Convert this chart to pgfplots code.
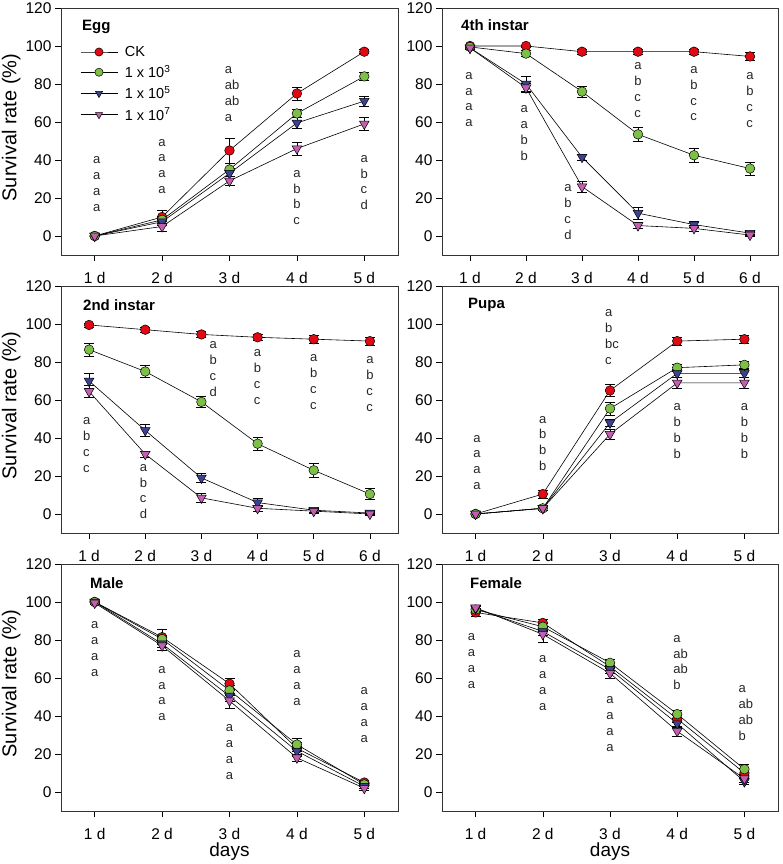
\documentclass[border=0pt]{standalone}
\usepackage{fontspec}
\setmainfont{Liberation Sans}
\usepackage{pgfplots}
\usepackage{pgfplotstable}
\pgfplotsset{compat=1.18}

\definecolor{ckred}{RGB}{225,10,20}
\definecolor{grn}{RGB}{125,192,70}
\definecolor{blu}{RGB}{60,65,145}
\definecolor{pnk}{RGB}{195,95,175}

% x ck eck g3 eg3 b5 eb5 p7 ep7
\pgfplotstableread{
x ck eck g3 eg3 b5 eb5 p7 ep7
1 0 0 0 0 0 0 0 0
2 10 3.5 8.5 2 7.5 2 5 2.5
3 45 6.5 35 3.5 33 2.5 29 2.5
4 75 3.5 64.5 2 59.5 3 46 3.5
5 97 1 84 2 71 2.5 59 3.5
}\egg
\pgfplotstableread{
x ck eck g3 eg3 b5 eb5 p7 ep7
1 100 0.5 99.5 0.5 99 0.5 99 0.5
2 100 0.5 96 1.5 80 4 78 2.5
3 97 1.5 76 3 41.5 1.5 26 3
4 97 1.5 53.5 3.5 12 3 5.5 1.5
5 97 1.5 42.5 3.5 6 1.5 4 1.5
6 94.5 2 35.5 3.5 1.5 1 0.5 0.5
}\fourth
\pgfplotstableread{
x ck eck g3 eg3 b5 eb5 p7 ep7
1 99.5 1 86.5 3.5 70 4 64.5 3
2 97 1.5 75 3 44 3 31.5 1.5
3 94.5 1.5 59 3 19 2.5 8.5 2.5
4 93 1.5 37 3.5 6 2 3 1.5
5 92 2 23 3.5 2 1 1.5 1
6 91 2 10.5 3 0.5 0.5 0 0.5
}\second
\pgfplotstableread{
x ck eck g3 eg3 b5 eb5 p7 ep7
1 0 0 0 0 0 0 0 0
2 10.5 2 3 1 3 1 3 1
3 65 3 55.5 3.5 48 2 42 2.5
4 91 2 77 2 74 2 69 3
5 92 2 78.5 2 74 2 69 3
}\pupa
\pgfplotstableread{
x ck eck g3 eg3 b5 eb5 p7 ep7
1 100 0.5 100 0.5 100 0.5 99.5 0.5
2 81.5 4 80.5 2 78 2 77 2.5
3 57 3 53.5 2.5 50.5 3 48 4
4 23 3 25 3.5 21.5 2.5 18 2
5 5 1 4 1 3 1 2 1
}\male
\pgfplotstableread{
x ck eck g3 eg3 b5 eb5 p7 ep7
1 94.5 2 96 1.5 96.5 1.5 97 1
2 89 2 87 2 84.5 2 83 4
3 66 2 68 2 64.5 2 62.5 2.5
4 38.5 2 41 2 36 2 32 2.5
5 10 2.5 12 2.5 5.5 1.5 7 2
}\female

\pgfplotsset{
  panel/.style={
    scale only axis, height=247pt,
    ymin=-10, ymax=120, ytick={0,20,...,120}, xmin=0.5,
    tick align=outside, xtick pos=bottom, ytick pos=left,
    major tick length=6pt,
    every tick/.style={black, line width=0.6pt},
    axis line style={line width=0.6pt, black!80},
    tick label style={font=\fontsize{15.5}{17}\selectfont},
    xticklabel style={yshift=-8pt},
    /pgf/number format/assume math mode=true,
    clip=false,
    legend image code/.code={\draw[mark repeat=2,mark phase=2,##1] plot coordinates {(0pt,0pt) (18.5pt,0pt) (37pt,0pt)};},
  },
  days5/.style={xmax=5.5, xtick={1,...,5}, xticklabels={1 d,2 d,3 d,4 d,5 d}},
  days6/.style={xmax=6.5, xtick={1,...,6}, xticklabels={1 d,2 d,3 d,4 d,5 d,6 d}},
  ylab/.style={ylabel={Survival rate (\%)},
    every axis y label/.style={at={(axis description cs:-0.148,0.516)}, rotate=90, anchor=center, font=\fontsize{20}{22}\selectfont}},
  xlab/.style={xlabel={days},
    every axis x label/.style={at={(axis description cs:0.5,-0.165)}, anchor=center, font=\fontsize{19}{21}\selectfont}},
  ebar/.style={error bars/.cd, y dir=both, y explicit,
    error mark=-,
    error bar style={black, line width=0.6pt},
    error mark options={rotate=90, black, mark size=5pt, line width=0.6pt}},
  sck/.style={black, line width=0.6pt, mark=*, mark size=4.8pt,
    mark options={fill=ckred, draw=black, line width=0.5pt}, ebar},
  sg/.style={black, line width=0.6pt, mark=*, mark size=4.8pt,
    mark options={fill=grn, draw=black, line width=0.5pt}, ebar},
  sb/.style={black, line width=0.6pt, mark=triangle*, mark size=5.6pt,
    mark options={fill=blu, draw=black, line width=0.5pt, rotate=180}, ebar},
  sp/.style={black, line width=0.6pt, mark=triangle*, mark size=5.6pt,
    mark options={fill=pnk, draw=black, line width=0.5pt, rotate=180}, ebar},
}

\newcommand{\lt}[3]{\node[font=\fontsize{13}{15.9}\selectfont, align=left, inner sep=0pt, text=black!85] at (axis cs:#1,#2) {#3};}
\newcommand{\ttl}[3]{\node[anchor=west, inner sep=0pt, font=\bfseries\fontsize{15}{17}\selectfont, xshift=#1, yshift=#2] at (axis description cs:0,1) {#3};}
\newcommand{\allseries}[1]{%
  \addplot[sck] table[x=x, y=ck, y error=eck] {#1};
  \addplot[sg] table[x=x, y=g3, y error=eg3] {#1};
  \addplot[sb] table[x=x, y=b5, y error=eb5] {#1};
  \addplot[sp] table[x=x, y=p7, y error=ep7] {#1};
}

\begin{document}
\begin{tikzpicture}
\path[use as bounding box] (0,0) rectangle (782pt,864pt);

% Egg
\begin{axis}[panel, days5, ylab, width=337pt, at={(61pt,609pt)}, anchor=south west,
  legend style={at={(axis description cs:0,1)}, anchor=north west, xshift=16pt, yshift=-34pt,
    draw=none, fill=none, font=\fontsize{14.5}{16}\selectfont, row sep=3.5pt,
    nodes={inner sep=2pt},
    /tikz/every odd column/.append style={column sep=5pt}},
  legend image post style={mark size=4.1pt},
  legend cell align=left]
\allseries{\egg}
\legend{CK, 1 x 10\textsuperscript{3}, 1 x 10\textsuperscript{5}, 1 x 10\textsuperscript{7}}
\ttl{21pt}{-19pt}{Egg}
\lt{1.03}{27.4}{a\\a\\a\\a}
\lt{2}{36.6}{a\\a\\a\\a}
\lt{3.04}{74.6}{a\\ab\\ab\\a}
\lt{4}{20.2}{a\\b\\b\\c}
\lt{5}{28.1}{a\\b\\c\\d}
\end{axis}

% 4th instar
\begin{axis}[panel, days6, width=336pt, at={(442pt,609pt)}, anchor=south west]
\allseries{\fourth}
\ttl{19pt}{-17pt}{4th instar}
\lt{0.98}{71.8}{a\\a\\a\\a}
\lt{1.97}{54}{a\\a\\b\\b}
\lt{2.75}{12.6}{a\\b\\c\\d}
\lt{4}{76.7}{a\\b\\c\\c}
\lt{5}{74.9}{a\\b\\c\\c}
\lt{6}{71.4}{a\\b\\c\\c}
\end{axis}

% 2nd instar
\begin{axis}[panel, days6, ylab, width=337pt, at={(61pt,331pt)}, anchor=south west]
\allseries{\second}
\ttl{22pt}{-19pt}{2nd instar}
\lt{0.96}{36.4}{a\\b\\c\\c}
\lt{1.97}{11.8}{a\\b\\c\\d}
\lt{3.21}{76.4}{a\\b\\c\\d}
\lt{4}{72}{a\\b\\c\\c}
\lt{5}{69.4}{a\\b\\c\\c}
\lt{6}{68.3}{a\\b\\c\\c}
\end{axis}

% Pupa
\begin{axis}[panel, days5, width=336pt, at={(442pt,331pt)}, anchor=south west]
\allseries{\pupa}
\ttl{26pt}{-19pt}{Pupa}
\lt{1.02}{27.1}{a\\a\\a\\a}
\lt{2}{37.1}{a\\b\\b\\b}
\lt{3.03}{93.1}{a\\b\\bc\\c}
\lt{4}{43.5}{a\\b\\b\\b}
\lt{5}{43.5}{a\\b\\b\\b}
\end{axis}

% Male
\begin{axis}[panel, days5, ylab, xlab, width=337pt, at={(61pt,53pt)}, anchor=south west]
\allseries{\male}
\ttl{29pt}{-19pt}{Male}
\lt{1}{75.1}{a\\a\\a\\a}
\lt{2}{51.8}{a\\a\\a\\a}
\lt{3}{21.2}{a\\a\\a\\a}
\lt{4}{60}{a\\a\\a\\a}
\lt{5}{40.4}{a\\a\\a\\a}
\end{axis}

% Female
\begin{axis}[panel, days5, xlab, width=336pt, at={(442pt,53pt)}, anchor=south west]
\allseries{\female}
\ttl{28pt}{-19pt}{Female}
\lt{0.94}{68.8}{a\\a\\a\\a}
\lt{2}{57.4}{a\\a\\a\\a}
\lt{3}{35.8}{a\\a\\a\\a}
\lt{4.05}{68.1}{a\\ab\\ab\\b}
\lt{5.02}{41.4}{a\\ab\\ab\\b}
\end{axis}
\end{tikzpicture}
\end{document}
